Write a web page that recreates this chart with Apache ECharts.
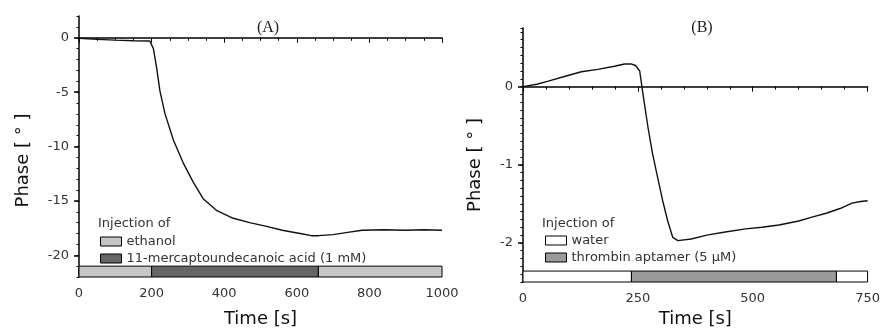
<!DOCTYPE html>
<html>
<head>
<meta charset="utf-8">
<script src="https://cdn.jsdelivr.net/npm/echarts@6/dist/echarts.min.js"></script>
<style>
html,body{margin:0;padding:0;background:#fff;}
#chart{width:883px;height:333px;}
</style>
</head>
<body>
<div id="chart"></div>
<script>
// panel A: phase vs time, thiol injection
var timeA  = [0, 50, 100, 150, 195, 200, 205, 214, 223, 237, 260, 287, 315, 342, 380, 425, 470, 517, 560, 609, 640, 660, 700, 740, 780, 840, 900, 950, 1000];
var phaseA = [-0.05, -0.15, -0.22, -0.28, -0.3, -0.4, -1.0, -2.8, -4.9, -7.0, -9.4, -11.5, -13.3, -14.8, -15.9, -16.6, -17.0, -17.35, -17.7, -18.0, -18.2, -18.2, -18.1, -17.9, -17.7, -17.65, -17.7, -17.65, -17.7];
// panel B: phase vs time, aptamer injection
var timeB  = [0, 30, 55, 90, 127, 163, 199, 221, 235, 245, 254, 261, 272, 282, 293, 304, 315, 326, 337, 366, 400, 440, 485, 520, 557, 600, 629, 660, 690, 716, 735, 750];
var phaseB = [0, 0.03, 0.07, 0.13, 0.19, 0.22, 0.26, 0.29, 0.29, 0.27, 0.2, -0.09, -0.52, -0.86, -1.16, -1.46, -1.72, -1.93, -1.97, -1.95, -1.9, -1.86, -1.82, -1.8, -1.77, -1.72, -1.67, -1.62, -1.56, -1.49, -1.47, -1.46];

// injection periods [start, end]
var ethanolA = [[0, 200], [659, 1000]];
var acidA    = [[200, 659]];
var waterB   = [[0, 236], [682, 750]];
var aptamerB = [[236, 682]];

var ticksA  = [-20, -15, -10, -5, 0];
var ticksB  = [-2, -1, 0];

function pairs(xs, ys){
	var out = [];
	for(var i=0;i<xs.length;i++) out.push([xs[i], ys[i]]);
	return out;
}

// strip of injection periods along bottom of axis
function strip(lo, hi){
	return function(params, api){
		var p0 = api.coord([api.value(0), hi]);
		var p1 = api.coord([api.value(1), lo]);
		return {
			type: 'rect',
			shape: {x: p0[0], y: p0[1], width: p1[0]-p0[0], height: p1[1]-p0[1]},
			style: {fill: api.visual('color'), stroke: '#000', lineWidth: 1}
		};
	};
}

var txt = '#333';
var axisLineStyle = {lineStyle:{color:'#000', width:1.5}};
var font = 'DejaVu Sans, sans-serif';

function xAxisOf(grid, max, interval, split, gap){
	return {
		type: 'value', gridIndex: grid, min: 0, max: max, interval: interval,
		name: 'Time [s]', nameLocation: 'middle', nameGap: gap,
		nameTextStyle: {fontSize: 18, color: '#111', fontFamily: font},
		axisLine: axisLineStyle,
		axisTick: {length: 5, lineStyle:{color:'#000'}},
		minorTick: {show: true, splitNumber: split, length: 3, lineStyle:{color:'#000'}},
		axisLabel: {fontSize: 13, color: txt, margin: 10, fontFamily: font,
			formatter: function(v){ return String(v); }},
		splitLine: {show: false}
	};
}
function yMinor(grid, min, max, step, gap, shift){
	return {
		type: 'value', gridIndex: grid, min: min, max: max, interval: step, position: 'left',
		name: 'Phase [ \u00b0 ]', nameLocation: 'middle', nameGap: gap,
		nameTextStyle: {fontSize: 18, color: '#111', fontFamily: font, padding: [0, shift, 0, 0]},
		axisLine: axisLineStyle,
		axisTick: {length: 2.5, lineStyle:{color:'#000'}},
		axisLabel: {show: false},
		splitLine: {show: false}
	};
}
function yMajor(grid, min, max, ticks){
	return {
		type: 'value', gridIndex: grid, min: min, max: max, position: 'left', offset: 0,
		axisLine: {show: false},
		axisTick: {show: true, length: 5, customValues: ticks, lineStyle:{color:'#000', width:1.5}},
		axisLabel: {fontSize: 13, color: txt, margin: 10, customValues: ticks, fontFamily: font},
		splitLine: {show: false}
	};
}

var myChart = echarts.init(document.getElementById('chart'));
var option = {
	backgroundColor: '#fff',
	animation: false,
	title: [
		{text: '(A)', left: 263, top: 15, textAlign: 'center', textStyle:{fontSize: 16, fontWeight: 'normal', color: '#222', fontFamily: 'Liberation Serif, serif'}},
		{text: '(B)', left: 697, top: 15, textAlign: 'center', textStyle:{fontSize: 16, fontWeight: 'normal', color: '#222', fontFamily: 'Liberation Serif, serif'}},
		{text: 'Injection of', left: 93, top: 212, textStyle:{fontSize: 13, fontWeight: 'normal', color: txt, fontFamily: font}},
		{text: 'Injection of', left: 537, top: 212, textStyle:{fontSize: 13, fontWeight: 'normal', color: txt, fontFamily: font}}
	],
	legend: [
		{data: ['ethanol', '11-mercaptoundecanoic acid (1 mM)'], orient: 'vertical', left: 95, top: 230,
		 icon: 'rect', itemWidth: 21, itemHeight: 9, itemGap: 4,
		 itemStyle: {borderColor: '#000', borderWidth: 1},
		 textStyle: {fontSize: 13, color: txt, fontFamily: font}},
		{data: ['water', 'thrombin aptamer (5 \u00b5M)'], orient: 'vertical', left: 540, top: 229,
		 icon: 'rect', itemWidth: 21, itemHeight: 9, itemGap: 4,
		 itemStyle: {borderColor: '#000', borderWidth: 1},
		 textStyle: {fontSize: 13, color: txt, fontFamily: font}}
	],
	grid: [
		{left: 79, width: 363, top: 16, height: 266},
		{left: 523, width: 346, top: 28, height: 254}
	],
	xAxis: [
		xAxisOf(0, 1000, 200, 4, 33),
		xAxisOf(1, 750, 250, 5, 25)
	],
	yAxis: [
		yMinor(0, -22, 2, 1, 47, 28),
		yMajor(0, -22, 2, ticksA),
		yMinor(1, -2.5, 0.75, 0.1, 39, 20),
		yMajor(1, -2.5, 0.75, ticksB)
	],
	series: [
		{name: 'ethanol', type: 'custom', xAxisIndex: 0, yAxisIndex: 0, renderItem: strip(-22, -21),
		 itemStyle: {color: '#c6c6c6'}, encode: {x: [0, 1]}, data: ethanolA, z: 3},
		{name: '11-mercaptoundecanoic acid (1 mM)', type: 'custom', xAxisIndex: 0, yAxisIndex: 0, renderItem: strip(-22, -21),
		 itemStyle: {color: '#666666'}, encode: {x: [0, 1]}, data: acidA, z: 3},
		{name: 'water', type: 'custom', xAxisIndex: 1, yAxisIndex: 2, renderItem: strip(-2.5, -2.36),
		 itemStyle: {color: '#ffffff'}, encode: {x: [0, 1]}, data: waterB, z: 3},
		{name: 'thrombin aptamer (5 \u00b5M)', type: 'custom', xAxisIndex: 1, yAxisIndex: 2, renderItem: strip(-2.5, -2.36),
		 itemStyle: {color: '#9a9a9a'}, encode: {x: [0, 1]}, data: aptamerB, z: 3},
		{name: 'phaseA', type: 'line', xAxisIndex: 0, yAxisIndex: 0, showSymbol: false,
		 lineStyle: {color: '#111', width: 1.4}, itemStyle: {color: '#111'}, data: pairs(timeA, phaseA)},
		{name: 'phaseB', type: 'line', xAxisIndex: 1, yAxisIndex: 2, showSymbol: false,
		 lineStyle: {color: '#111', width: 1.4}, itemStyle: {color: '#111'}, data: pairs(timeB, phaseB)}
	]
};
myChart.setOption(option);
</script>
</body>
</html>
